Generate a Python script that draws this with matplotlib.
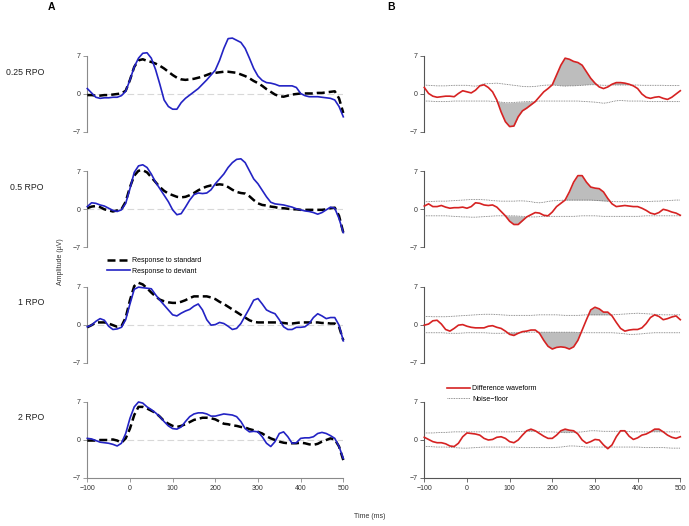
import numpy as np
import matplotlib.pyplot as plt

plt.rcParams['font.family'] = ['Liberation Sans', 'DejaVu Sans']

# ----------------------
# Data (10 ms steps from -100 to 500 ms)
# ----------------------
timeMs = np.arange(-100, 501, 10)

conditions = ["0.25 RPO", "0.5 RPO", "1 RPO", "2 RPO"]

# 0.25 RPO
std025 = [-0.2, -0.2, -0.3, -0.3, -0.2, -0.2, -0.1, 0.0, 0.1, 0.6,
          2.6, 5.0, 6.2, 6.4, 6.1, 5.9, 5.6, 5.2, 4.7, 4.1,
          3.5, 3.0, 2.7, 2.6, 2.7, 2.8, 3.0, 3.2, 3.5, 3.8,
          3.9, 4.0, 4.1, 4.1, 4.0, 3.9, 3.6, 3.3, 2.9, 2.4,
          2.0, 1.5, 0.9, 0.4, -0.1, -0.4, -0.5, -0.3, -0.1, 0.0,
          0.1, 0.1, 0.1, 0.1, 0.2, 0.2, 0.3, 0.4, 0.5, -0.8, -3.5]
dev025 = [1.0, 0.2, -0.6, -0.8, -0.7, -0.7, -0.6, -0.6, -0.3, 0.5,
          2.6, 5.0, 6.6, 7.5, 7.6, 6.6, 4.5, 1.8, -1.1, -2.3,
          -2.8, -2.8, -1.6, -0.8, -0.2, 0.4, 1.0, 1.8, 2.6, 3.5,
          4.4, 6.2, 8.4, 10.2, 10.3, 9.9, 9.5, 8.4, 6.6, 4.7,
          3.3, 2.5, 2.1, 2.0, 1.8, 1.5, 1.5, 1.5, 1.5, 1.2,
          0.1, -0.3, -0.5, -0.5, -0.5, -0.6, -0.7, -0.8, -1.1, -2.3, -4.2]
diff025 = [1.2, 0.1, -0.4, -0.6, -0.5, -0.4, -0.4, -0.5, 0.1, 0.6,
           0.4, 0.2, 0.7, 1.5, 1.7, 1.2, 0.4, -1.1, -3.3, -5.1,
           -6.0, -5.9, -4.2, -3.1, -2.6, -2.0, -1.4, -0.5, 0.4, 1.0,
           1.7, 3.5, 5.3, 6.6, 6.4, 6.0, 5.8, 5.3, 4.1, 2.9,
           2.0, 1.3, 1.0, 1.3, 1.8, 2.1, 2.1, 2.0, 1.8, 1.5,
           1.0, 0.0, -0.6, -0.8, -0.6, -0.5, -0.8, -1.0, -0.6, 0.0, 0.6]
noiseHi025 = [1.65, 1.6, 1.55, 1.5, 1.5, 1.5, 1.55, 1.6, 1.6, 1.6,
              1.6, 1.5, 1.45, 1.6, 1.9, 1.9, 1.95, 2.0, 1.9, 1.8,
              1.7, 1.6, 1.5, 1.4, 1.35, 1.35, 1.4, 1.5, 1.6, 1.65,
              1.65, 1.6, 1.5, 1.45, 1.5, 1.5, 1.55, 1.6, 1.65, 1.7,
              1.7, 1.65, 1.6, 1.6, 1.65, 1.65, 1.65, 1.65, 1.65, 1.65,
              1.65, 1.6, 1.6, 1.6, 1.6, 1.6, 1.6, 1.55, 1.55, 1.55, 1.55]
noiseLo025 = [-1.3, -1.3, -1.35, -1.4, -1.4, -1.4, -1.35, -1.3, -1.3, -1.3,
              -1.3, -1.3, -1.3, -1.3, -1.3, -1.3, -1.35, -1.4, -1.5, -1.6,
              -1.6, -1.55, -1.5, -1.45, -1.4, -1.4, -1.35, -1.3, -1.3, -1.3,
              -1.3, -1.3, -1.3, -1.3, -1.3, -1.3, -1.3, -1.35, -1.4, -1.45,
              -1.5, -1.6, -1.7, -1.6, -1.4, -1.25, -1.2, -1.25, -1.3, -1.3,
              -1.3, -1.3, -1.35, -1.4, -1.4, -1.4, -1.4, -1.4, -1.4, -1.4, -1.4]

# 0.5 RPO
std05 = [0.2, 0.5, 0.6, 0.4, 0.0, -0.2, -0.4, -0.2, 0.0, 1.4,
         4.1, 6.2, 7.1, 7.2, 6.8, 5.9, 5.0, 4.1, 3.4, 2.9,
         2.6, 2.3, 2.2, 2.3, 2.6, 3.0, 3.5, 3.9, 4.2, 4.4,
         4.5, 4.6, 4.5, 4.1, 3.6, 3.2, 3.0, 2.9, 2.4, 1.7,
         1.1, 0.8, 0.7, 0.5, 0.4, 0.2, 0.2, 0.1, 0.0, 0.0,
         -0.1, -0.1, -0.1, -0.1, -0.1, -0.1, 0.0, 0.2, 0.3, -1.2, -4.3]
dev05 = [0.5, 1.2, 1.1, 0.8, 0.6, 0.2, -0.2, -0.4, -0.1, 1.1,
         3.8, 6.8, 8.0, 8.2, 7.7, 6.5, 5.0, 3.8, 2.6, 1.4,
         -0.1, -1.0, -0.8, 0.4, 1.7, 2.7, 3.0, 2.9, 3.0, 3.6,
         4.7, 5.6, 6.5, 7.7, 8.6, 9.2, 9.3, 8.6, 7.1, 5.6,
         4.7, 3.5, 2.3, 1.3, 1.0, 0.9, 0.8, 0.6, 0.4, 0.1,
         -0.1, -0.3, -0.4, -0.6, -0.9, -0.6, -0.1, 0.4, 0.2, -1.7, -4.3]
diff05 = [0.6, 1.0, 0.5, 0.5, 0.7, 0.4, 0.2, 0.3, 0.3, 0.4,
          0.2, 0.5, 1.2, 1.1, 0.8, 0.7, 0.8, 0.4, -0.4, -1.2,
          -2.2, -2.8, -2.8, -2.1, -1.4, -1.0, -0.6, -0.7, -1.1, -1.2,
          -0.5, 0.5, 1.1, 1.7, 3.2, 5.0, 6.2, 6.2, 5.0, 4.1,
          3.9, 3.8, 3.2, 2.0, 1.0, 0.5, 0.6, 0.7, 0.6, 0.5,
          0.5, 0.2, -0.2, -0.7, -0.9, -0.6, 0.0, -0.2, -0.5, -0.7, -1.1]
noiseHi05 = [1.4, 1.4, 1.45, 1.5, 1.5, 1.5, 1.55, 1.6, 1.65, 1.7,
             1.75, 1.8, 1.8, 1.8, 1.75, 1.7, 1.6, 1.55, 1.5, 1.5,
             1.5, 1.5, 1.55, 1.55, 1.5, 1.4, 1.25, 1.2, 1.3, 1.45,
             1.55, 1.6, 1.65, 1.7, 1.7, 1.7, 1.7, 1.7, 1.7, 1.7,
             1.65, 1.6, 1.55, 1.5, 1.45, 1.4, 1.4, 1.4, 1.4, 1.45,
             1.45, 1.45, 1.45, 1.45, 1.5, 1.5, 1.55, 1.6, 1.65, 1.7, 1.7]
noiseLo05 = [-1.2, -1.2, -1.2, -1.2, -1.2, -1.2, -1.25, -1.3, -1.35, -1.4,
             -1.4, -1.45, -1.45, -1.4, -1.35, -1.3, -1.25, -1.2, -1.2, -1.2,
             -1.2, -1.2, -1.25, -1.3, -1.35, -1.4, -1.4, -1.35, -1.3, -1.3,
             -1.3, -1.3, -1.3, -1.3, -1.3, -1.3, -1.25, -1.2, -1.2, -1.2,
             -1.2, -1.25, -1.3, -1.3, -1.3, -1.3, -1.3, -1.3, -1.3, -1.3,
             -1.3, -1.25, -1.2, -1.2, -1.2, -1.2, -1.2, -1.2, -1.2, -1.2, -1.2]

# 1 RPO
std1 = [-0.5, -0.1, 0.4, 0.4, 0.4, 0.2, -0.1, -0.4, -0.3, 1.3,
        4.5, 7.1, 7.7, 7.4, 6.7, 5.9, 5.2, 4.6, 4.3, 4.1,
        4.0, 4.0, 4.2, 4.5, 4.9, 5.2, 5.2, 5.2, 5.2, 5.0,
        4.7, 4.2, 3.8, 3.3, 2.8, 2.3, 1.8, 1.3, 0.8, 0.5,
        0.4, 0.4, 0.4, 0.4, 0.4, 0.4, 0.3, 0.2, 0.2, 0.3,
        0.4, 0.4, 0.4, 0.4, 0.4, 0.3, 0.3, 0.2, 0.2, -0.4, -2.9]
dev1 = [-0.4, -0.1, 0.6, 1.1, 0.8, -0.3, -0.9, -0.8, -0.5, 0.9,
        3.8, 6.5, 6.9, 6.8, 6.7, 6.6, 5.5, 4.5, 3.6, 2.7,
        1.8, 1.6, 2.1, 2.5, 2.8, 3.4, 3.8, 2.7, 0.9, -0.1,
        0.0, 0.4, 0.2, -0.3, -0.9, -0.7, 0.2, 1.6, 3.0, 4.5,
        4.8, 3.8, 2.7, 2.3, 2.0, 0.9, -0.4, -0.9, -0.9, -0.5,
        -0.5, -0.4, 0.2, 1.3, 2.0, 1.6, 1.1, 1.3, 1.3, -0.1, -3.0]
diff1 = [-0.1, 0.1, 0.7, 0.8, 0.1, -0.9, -1.2, -0.7, -0.1, 0.0,
         -0.3, -0.5, -0.6, -0.6, -0.6, -0.3, -0.2, -0.5, -0.7, -1.2,
         -1.8, -2.0, -1.6, -1.3, -1.2, -1.0, -1.0, -1.6, -2.9, -4.0,
         -4.5, -4.2, -4.1, -4.2, -4.5, -4.1, -2.9, -1.0, 0.9, 2.7,
         3.2, 2.9, 2.3, 2.3, 1.6, 0.4, -0.7, -1.2, -1.0, -0.9,
         -0.9, -0.6, 0.2, 1.3, 1.8, 1.5, 0.9, 1.1, 1.4, 1.6, 0.9]
noiseHi1 = [1.5, 1.5, 1.45, 1.45, 1.45, 1.45, 1.5, 1.55, 1.6, 1.65,
            1.7, 1.75, 1.8, 1.85, 1.9, 1.9, 1.9, 1.85, 1.8, 1.75,
            1.7, 1.7, 1.7, 1.7, 1.7, 1.7, 1.75, 1.8, 1.8, 1.8,
            1.8, 1.8, 1.75, 1.7, 1.7, 1.7, 1.7, 1.75, 1.8, 1.8,
            1.8, 1.8, 1.8, 1.8, 1.8, 1.85, 1.9, 1.95, 2.0, 2.05,
            2.1, 2.05, 2.0, 1.95, 1.9, 1.85, 1.8, 1.8, 1.8, 1.8, 1.8]
noiseLo1 = [-1.5, -1.5, -1.5, -1.5, -1.5, -1.55, -1.6, -1.6, -1.6, -1.55,
            -1.5, -1.5, -1.5, -1.5, -1.5, -1.55, -1.6, -1.6, -1.6, -1.55,
            -1.5, -1.5, -1.5, -1.5, -1.45, -1.4, -1.4, -1.4, -1.4, -1.4,
            -1.4, -1.4, -1.4, -1.4, -1.4, -1.4, -1.45, -1.5, -1.5, -1.5,
            -1.5, -1.5, -1.5, -1.5, -1.5, -1.55, -1.6, -1.7, -1.8, -1.8,
            -1.75, -1.7, -1.6, -1.55, -1.5, -1.5, -1.5, -1.5, -1.5, -1.5, -1.5]

# 2 RPO
std2 = [-0.1, -0.1, -0.1, 0.0, 0.0, 0.0, 0.1, -0.1, -0.5, 0.3,
        2.1, 4.6, 6.1, 6.1, 5.8, 5.4, 5.0, 4.3, 3.5, 3.0,
        2.6, 2.4, 2.6, 2.9, 3.3, 3.7, 3.9, 4.1, 4.1, 4.0,
        3.8, 3.4, 3.0, 2.9, 2.7, 2.6, 2.4, 2.3, 2.0, 1.8,
        1.5, 1.2, 0.7, 0.3, 0.0, -0.3, -0.5, -0.6, -0.6, -0.6,
        -0.5, -0.6, -0.8, -0.9, -0.7, -0.3, 0.0, 0.3, 0.1, -1.2, -3.7]
dev2 = [0.3, 0.2, -0.1, -0.4, -0.5, -0.6, -0.8, -1.1, -0.6, 1.2,
        4.0, 6.1, 7.0, 6.8, 6.1, 5.6, 5.0, 4.3, 3.4, 2.6,
        2.1, 2.0, 2.4, 3.4, 4.3, 4.8, 5.0, 5.0, 4.8, 4.4,
        4.4, 4.6, 4.8, 4.7, 4.6, 4.3, 3.4, 2.1, 1.5, 1.6,
        1.5, 0.6, -0.6, -1.2, -0.3, 1.2, 1.5, 0.6, -0.6, -0.5,
        0.3, 0.4, 0.4, 0.6, 1.2, 1.4, 1.2, 0.8, 0.3, -1.2, -3.4]
diff2 = [0.5, 0.1, -0.3, -0.5, -0.5, -0.7, -1.1, -1.2, -0.6, 0.6,
         1.3, 1.2, 1.1, 0.9, 0.3, 0.0, 0.1, 0.5, 0.6, 0.3,
         -0.3, -0.5, 0.0, 0.9, 1.7, 2.0, 1.7, 1.2, 0.7, 0.3,
         0.3, 0.9, 1.7, 2.0, 1.8, 1.7, 1.1, 0.0, -0.6, -0.3,
         0.1, 0.0, -0.9, -1.6, -0.9, 0.6, 1.7, 1.7, 0.7, 0.1,
         0.4, 0.9, 1.1, 1.5, 2.0, 2.0, 1.5, 0.9, 0.5, 0.3, 0.6]
noiseHi2 = [1.3, 1.3, 1.3, 1.35, 1.4, 1.4, 1.45, 1.5, 1.5, 1.5,
            1.5, 1.5, 1.5, 1.5, 1.5, 1.5, 1.5, 1.5, 1.5, 1.5,
            1.5, 1.5, 1.55, 1.6, 1.6, 1.6, 1.6, 1.55, 1.5, 1.5,
            1.5, 1.45, 1.4, 1.35, 1.35, 1.4, 1.45, 1.5, 1.6, 1.7,
            1.7, 1.65, 1.6, 1.6, 1.6, 1.6, 1.6, 1.6, 1.55, 1.5,
            1.5, 1.5, 1.5, 1.5, 1.5, 1.5, 1.5, 1.5, 1.5, 1.5, 1.5]
noiseLo2 = [-1.2, -1.2, -1.25, -1.3, -1.3, -1.3, -1.35, -1.4, -1.45, -1.5,
            -1.5, -1.45, -1.4, -1.35, -1.3, -1.3, -1.3, -1.3, -1.3, -1.3,
            -1.3, -1.3, -1.35, -1.4, -1.4, -1.4, -1.4, -1.4, -1.4, -1.4,
            -1.4, -1.35, -1.3, -1.2, -1.1, -1.1, -1.15, -1.2, -1.3, -1.3,
            -1.3, -1.3, -1.3, -1.3, -1.3, -1.3, -1.3, -1.3, -1.3, -1.3,
            -1.3, -1.35, -1.4, -1.4, -1.4, -1.4, -1.4, -1.45, -1.5, -1.5, -1.5]

standardWaves = [std025, std05, std1, std2]
deviantWaves = [dev025, dev05, dev1, dev2]
diffWaves = [diff025, diff05, diff1, diff2]
noiseHighs = [noiseHi025, noiseHi05, noiseHi1, noiseHi2]
noiseLows = [noiseLo025, noiseLo05, noiseLo1, noiseLo2]

xTicks = [-100, 0, 100, 200, 300, 400, 500]
yTicks = [-7, 0, 7]

# ----------------------
# Layout (pixel positions on a 689 x 526 canvas)
# ----------------------
W, H = 689, 526
fig = plt.figure(figsize=(W / 100, H / 100), dpi=100)

zeroRows = [94, 209.3, 324.6, 440]
halfHeight = 38
leftX0, rightX0, axW = 87.3, 424.3, 256

blue = "#2323c4"
red = "#d62222"


def styleAxis(ax, spineColor, showX):
    ax.set_xlim(-100, 500)
    ax.set_ylim(-7, 7)
    for side in ["top", "right"]:
        ax.spines[side].set_visible(False)
    ax.spines["left"].set_color(spineColor)
    ax.spines["left"].set_linewidth(0.8)
    ax.set_yticks(yTicks)
    ax.tick_params(axis="y", length=3, width=0.6, colors=spineColor, labelsize=5,
                   labelcolor="#333333", pad=2)
    if showX:
        ax.spines["bottom"].set_color(spineColor)
        ax.spines["bottom"].set_linewidth(0.8)
        ax.set_xticks(xTicks)
        ax.tick_params(axis="x", length=3, width=0.6, colors=spineColor, labelsize=5,
                       labelcolor="#333333", pad=2)
    else:
        ax.spines["bottom"].set_visible(False)
        ax.set_xticks([])
    ax.patch.set_alpha(0)


for i, cond in enumerate(conditions):
    bottom = 1 - (zeroRows[i] + halfHeight) / H
    height = 2 * halfHeight / H
    lastRow = (i == len(conditions) - 1)

    # --- column A: responses to standard and deviant
    axA = fig.add_axes([leftX0 / W, bottom, axW / W, height])
    axA.plot([-100, 500], [0, 0], color="#d8d8d8", lw=0.8, ls=(0, (6, 3)), zorder=1)
    stdLine, = axA.plot(timeMs, standardWaves[i], color="black", lw=1.8,
                        dashes=(3.2, 1.6), clip_on=False, zorder=3,
                        label="Response to standard")
    devLine, = axA.plot(timeMs, deviantWaves[i], color=blue, lw=1.2,
                        clip_on=False, zorder=4, label="Response to deviant")
    styleAxis(axA, "#8a8a8a", lastRow)
    fig.text(44 / W, 1 - (zeroRows[i] - 22) / H, cond, ha="right", va="center",
             fontsize=6.3, color="#222222")

    # --- column B: difference waveform against the noise floor
    axB = fig.add_axes([rightX0 / W, bottom, axW / W, height])
    diff = np.array(diffWaves[i])
    hi = np.array(noiseHighs[i])
    lo = np.array(noiseLows[i])
    axB.fill_between(timeMs, diff, hi, where=diff > hi, interpolate=True,
                     color="#bdbdbd", lw=0, zorder=2)
    axB.fill_between(timeMs, diff, lo, where=diff < lo, interpolate=True,
                     color="#bdbdbd", lw=0, zorder=2)
    noiseLine, = axB.plot(timeMs, hi, color="#6e6e6e", lw=0.6, ls=(0, (1, 1)),
                          zorder=3, label="Noise\u2212floor")
    axB.plot(timeMs, lo, color="#6e6e6e", lw=0.6, ls=(0, (1, 1)), zorder=3)
    diffLine, = axB.plot(timeMs, diff, color=red, lw=1.2, clip_on=False, zorder=4,
                         label="Difference waveform")
    styleAxis(axB, "#555555", lastRow)

    if i == 1:
        fig.legend(handles=[stdLine, devLine], loc="upper left",
                   bbox_to_anchor=(107 / W, 1 - 257.5 / H), frameon=False,
                   fontsize=5, handlelength=3.3, handletextpad=0.3,
                   labelspacing=0.45, borderpad=0, borderaxespad=0)
    if i == 2:
        fig.legend(handles=[diffLine, noiseLine], loc="upper left",
                   bbox_to_anchor=(447 / W, 1 - 385.5 / H), frameon=False,
                   fontsize=5, handlelength=3.3, handletextpad=0.3,
                   labelspacing=0.45, borderpad=0, borderaxespad=0)

fig.text(51 / W, 1 - 7 / H, "A", fontsize=7.5, fontweight="bold", ha="center", va="center")
fig.text(391 / W, 1 - 7 / H, "B", fontsize=7.5, fontweight="bold", ha="center", va="center")
fig.text(61 / W, 1 - 262 / H, "Amplitude (\u00b5V)", rotation=90, fontsize=5,
         ha="center", va="center", color="#333333")
fig.text(370 / W, 1 - 517 / H, "Time (ms)", fontsize=5, ha="center", va="center",
         color="#333333")

fig.savefig("out.png", dpi=100)
